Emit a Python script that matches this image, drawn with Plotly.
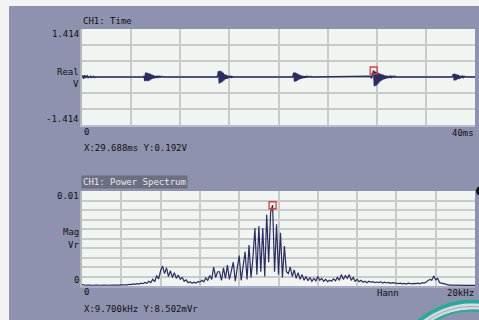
import plotly.graph_objects as go

# ---------------- data ----------------
# Time record: 40 ms, 512 intervals
record_ms = 40.0
n_intervals = 512

# Low-level ripple at the start of the record (V)
lead_in = [0.04, -0.05, 0.05, -0.03, 0.02, 0.0, 0.03, -0.02, 0.0, 0.0,
           0.02, -0.015, 0.0, 0.0, 0.015, -0.01]

# Onset of each acoustic burst (ms) and its samples (V)
burst_onsets_ms = [6.33, 13.83, 21.48, 29.375, 37.73]
burst_samples = [
    [0.03, -0.12, 0.13, -0.11, 0.12, -0.12, 0.11, -0.10, 0.09, -0.07, 0.07, -0.05,
     0.05, -0.04, 0.03, -0.03, 0.03, -0.02, 0.02, -0.01, 0.02, 0.0, 0.015, 0.0, 0.01],
    [0.06, 0.17, -0.19, 0.18, -0.17, 0.16, -0.14, 0.12, -0.10, 0.08, -0.06, 0.06,
     -0.05, 0.04, -0.03, 0.03, -0.02, 0.02, -0.01, 0.01],
    [0.04, 0.13, -0.14, 0.13, -0.12, 0.11, -0.10, 0.08, -0.07, 0.06, -0.05, 0.04,
     -0.04, 0.03, -0.03, 0.02, -0.02, 0.02, 0.0, 0.015, 0.0, 0.01, 0.0, 0.015],
    [0.02, -0.04, 0.06, 0.10, 0.192, -0.27, 0.16, -0.26, 0.14, -0.22, 0.12, -0.17,
     0.10, -0.12, 0.08, -0.09, 0.07, -0.07, 0.05, -0.05, 0.04, -0.04, 0.03, -0.03,
     0.03, -0.02, 0.02, -0.015, 0.015, 0.0, 0.02, 0.0, 0.015],
    [0.03, 0.09, -0.10, 0.09, -0.09, 0.08, -0.07, 0.06, -0.05, 0.04, -0.04, 0.03,
     -0.02, 0.02, -0.015, 0.015, 0.0, 0.01, 0.0, 0.01],
]

# Power spectrum, 0..20 kHz in 100 Hz lines (mVr)
span_khz = 20.0
spectrum_mvr = [
    0.15, 0.10, 0.08, 0.10, 0.07, 0.09, 0.08, 0.10, 0.07, 0.09,
    0.08, 0.10, 0.07, 0.09, 0.08, 0.10, 0.08, 0.09, 0.11, 0.09,
    0.12, 0.10, 0.15, 0.12, 0.18, 0.14, 0.22, 0.17, 0.25, 0.20,
    0.30, 0.24, 0.38, 0.28, 0.50, 0.35, 0.70, 0.45, 1.10, 0.75,
    1.60, 2.10, 1.30, 1.90, 1.00, 1.60, 0.90, 1.40, 0.80, 1.15,
    0.70, 0.90, 0.50, 0.65, 0.35, 0.45, 0.28, 0.40, 0.30, 0.45,
    0.40, 0.60, 0.45, 0.85, 0.60, 1.10, 0.70, 2.00, 0.90, 1.50,
    1.50, 0.60, 1.90, 0.80, 2.20, 0.70, 1.60, 2.50, 0.50, 2.00,
    3.20, 0.60, 2.40, 3.60, 0.70, 4.30, 0.90, 3.00, 6.10, 1.20,
    6.30, 1.50, 6.10, 1.00, 7.50, 2.50, 7.80, 8.502, 1.50, 6.50,
    1.20, 5.60, 0.90, 4.20, 1.50, 1.30, 2.00, 1.00, 1.70, 0.80,
    1.40, 0.70, 1.20, 0.60, 1.00, 0.55, 0.90, 0.50, 0.80, 0.55,
    1.00, 0.60, 0.80, 0.50, 0.70, 0.45, 0.60, 0.50, 0.75, 0.55,
    0.90, 0.60, 1.20, 0.70, 1.10, 0.80, 1.20, 0.60, 0.90, 0.50,
    0.70, 0.45, 0.60, 0.40, 0.50, 0.35, 0.50, 0.40, 0.45, 0.35,
    0.42, 0.35, 0.45, 0.30, 0.40, 0.32, 0.38, 0.28, 0.35, 0.30,
    0.28, 0.25, 0.30, 0.22, 0.28, 0.20, 0.30, 0.25, 0.22, 0.28,
    0.25, 0.30, 0.22, 0.35, 0.30, 0.40, 0.55, 0.70, 0.60, 1.05,
    0.65, 0.80, 0.35, 0.30, 0.20, 0.15, 0.12, 0.10, 0.10, 0.09,
    0.08, 0.09, 0.08, 0.08, 0.07, 0.08, 0.08, 0.07, 0.08, 0.08, 0.07,
]

# Cursor readouts
time_cursor_ms, time_cursor_v = 29.688, 0.192
freq_cursor_khz, freq_cursor_mvr = 9.700, 8.502

# ---------------- assemble series ----------------
dt = record_ms / n_intervals
t_ms = [i * dt for i in range(n_intervals + 1)]
volts = [0.0] * (n_intervals + 1)
for k, v in enumerate(lead_in):
    volts[1 + k] = v
for onset, samples in zip(burst_onsets_ms, burst_samples):
    start = round(onset / dt)
    for k, v in enumerate(samples):
        volts[start + k] = v

df = span_khz / (len(spectrum_mvr) - 1)
f_khz = [i * df for i in range(len(spectrum_mvr))]

# ---------------- styling ----------------
W, H = 479, 320
PANEL = "#8e92ae"
PLOT_BG = "#f0f5f2"
GRID = "#c8cbca"
TRACE = "#2a2c62"
CURSOR = "#e53b36"
FONT = "DejaVu Sans Mono"


def px(x):
    return x / W


def py(y):
    return 1 - y / H


fig = go.Figure()

fig.add_trace(go.Scatter(x=t_ms, y=volts, mode="lines",
                         line=dict(color=TRACE, width=1.5),
                         xaxis="x", yaxis="y", hoverinfo="skip"))
fig.add_trace(go.Scatter(x=[time_cursor_ms], y=[time_cursor_v], mode="markers",
                         marker=dict(symbol="square-open", size=7,
                                     color=CURSOR, line=dict(width=1.3, color=CURSOR)),
                         xaxis="x", yaxis="y"))
fig.add_trace(go.Scatter(x=f_khz, y=spectrum_mvr, mode="lines",
                         line=dict(color=TRACE, width=1.2),
                         xaxis="x2", yaxis="y2", hoverinfo="skip"))
fig.add_trace(go.Scatter(x=[freq_cursor_khz], y=[freq_cursor_mvr], mode="markers",
                         marker=dict(symbol="square-open", size=7,
                                     color=CURSOR, line=dict(width=1.3, color=CURSOR)),
                         xaxis="x2", yaxis="y2"))

xdom = [px(82), px(475)]
axis_common = dict(showticklabels=False, ticks="", zeroline=False,
                   showgrid=True, gridcolor=GRID, gridwidth=2, fixedrange=True)

fig.update_layout(
    width=W, height=H, autosize=False,
    margin=dict(l=0, r=0, t=0, b=0),
    paper_bgcolor=PANEL, plot_bgcolor=PLOT_BG,
    showlegend=False,
    font=dict(family=FONT, size=9, color="#111111"),
    xaxis=dict(domain=xdom, range=[0, record_ms], tickmode="linear", tick0=0, dtick=5,
               anchor="y", showline=True, linecolor="#b9bdd2", linewidth=2, **axis_common),
    yaxis=dict(domain=[py(125), py(29)], range=[-1.414, 1.414],
               tickvals=[-1.414, -0.943, -0.471, 0, 0.471, 0.943, 1.414],
               anchor="x", showline=True, linecolor="#b4b6b8", linewidth=2, **axis_common),
    xaxis2=dict(domain=xdom, range=[0, span_khz], tickmode="linear", tick0=0, dtick=2,
                anchor="y2", showline=True, linecolor="#a8abc6", linewidth=2, **axis_common),
    yaxis2=dict(domain=[py(286), py(191)], range=[0, 10], tickmode="linear", tick0=0, dtick=1,
                anchor="x2", showline=True, linecolor="#b4b6b8", linewidth=2, **axis_common),
)

# window chrome: light strips at the top and left, the dial ring and a knob dot
shapes = [
    dict(type="rect", xref="paper", yref="paper", x0=px(-2), x1=px(W + 2), y0=py(6), y1=py(-2),
         fillcolor="#f3f3f4", line=dict(width=0), layer="below"),
    dict(type="rect", xref="paper", yref="paper", x0=px(-2), x1=px(9), y0=py(H + 2), y1=py(-2),
         fillcolor="#f3f3f4", line=dict(width=0), layer="below"),
    dict(type="circle", xref="paper", yref="paper", x0=px(476), x1=px(486), y0=py(196), y1=py(186),
         fillcolor="#111111", line=dict(width=0)),
]
cx, cy = 472, 384
for r, col, w in [(82.5, "#1fae9a", 3.5), (77.5, "#d6dbdd", 6), (77.5, "#a4a8b8", 1),
                  (73.5, "#1fae9a", 2.2)]:
    shapes.append(dict(type="circle", xref="paper", yref="paper",
                       x0=px(cx - r), x1=px(cx + r), y0=py(cy + r), y1=py(cy - r),
                       line=dict(color=col, width=w), fillcolor="rgba(0,0,0,0)"))
fig.update_layout(shapes=shapes)


def label(text, x, y, anchor="left", **kw):
    fig.add_annotation(text=text, xref="paper", yref="paper", x=px(x), y=py(y),
                       xanchor=anchor, yanchor="middle", showarrow=False, **kw)


label("CH1: Time", 81, 21)
label("1.414", 81, 34, "right")
label("Real", 81, 72, "right")
label("V", 81, 84, "right")
label("-1.414", 81, 119, "right")
label("0", 82, 132)
label("40ms", 476, 133, "right")
label(f"X:{time_cursor_ms:.3f}ms Y:{time_cursor_v:.3f}V", 82, 148)

label("CH1: Power Spectrum", 81, 182, bgcolor="#6c6f82", borderpad=1,
      font=dict(family=FONT, size=9, color="#e8e8ec"))
label("0.01", 81, 196, "right")
label("Mag", 81, 232, "right")
label("Vr", 81, 245, "right")
label("0", 81, 280, "right")
label("0", 82, 292)
label("Hann", 388, 293, "center")
label("20kHz", 476, 293, "right")
label(f"X:{freq_cursor_khz:.3f}kHz Y:{freq_cursor_mvr:.3f}mVr", 82, 309)

fig.write_html("out.html", config={"displayModeBar": False})
